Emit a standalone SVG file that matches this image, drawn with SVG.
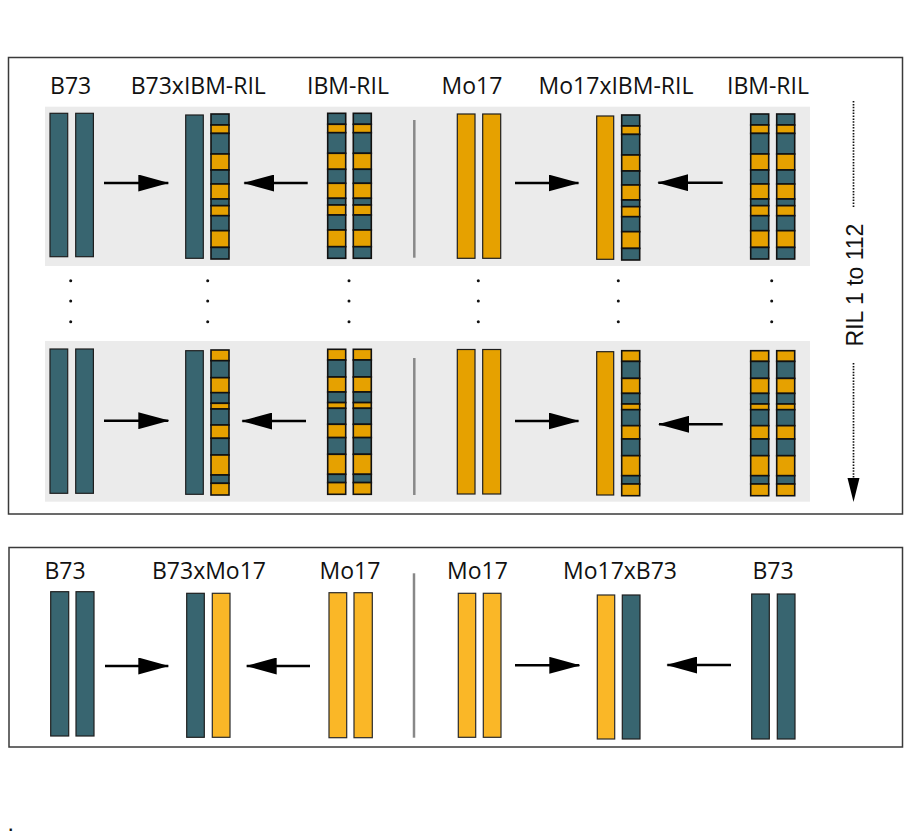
<svg xmlns="http://www.w3.org/2000/svg" width="923" height="835" viewBox="0 0 923 835">
<style>
.box{fill:#fff;stroke:#3a3a3a;stroke-width:1.5}
.panel{fill:#ebebeb}
.t{fill:#386570;stroke:#1e1e1e;stroke-width:1.2}
.o{fill:#e6a100;stroke:#1e1e1e;stroke-width:1.2}
.o2{fill:#fab727;stroke:#2a2a2a;stroke-width:1.2}
.st{stroke:#111;stroke-width:1.6}
.sep{stroke:#888;stroke-width:2.5}
.lbl{font-family:"Open Sans","Liberation Sans",sans-serif;font-size:23px;fill:#111;text-anchor:middle}
.arr{stroke:#000;stroke-width:2.6;fill:none;marker-end:url(#ah)}
.dot{fill:#111}
.dash{stroke:#111;stroke-width:1.7;stroke-dasharray:1.5 1.4;fill:none}
</style>
<defs>
<marker id="ah" viewBox="0 0 31 17" refX="30" refY="8.5" markerWidth="31" markerHeight="17" markerUnits="userSpaceOnUse" orient="auto">
<path d="M0,0 L31,8.5 L0,17 Z" fill="#000"/>
</marker>
<g id="sA">
<rect class="t st" x="0" y="0" width="18" height="11"/>
<rect class="o st" x="0" y="11" width="18" height="8.4"/>
<rect class="t st" x="0" y="19.4" width="18" height="20.6"/>
<rect class="o st" x="0" y="40" width="18" height="16"/>
<rect class="t st" x="0" y="56" width="18" height="14"/>
<rect class="o st" x="0" y="70" width="18" height="15"/>
<rect class="t st" x="0" y="85" width="18" height="6.7"/>
<rect class="o st" x="0" y="91.7" width="18" height="10"/>
<rect class="t st" x="0" y="101.7" width="18" height="15"/>
<rect class="o st" x="0" y="116.7" width="18" height="16.7"/>
<rect class="t st" x="0" y="133.4" width="18" height="11.6"/>
</g>
<g id="sB">
<rect class="o st" x="0" y="0" width="18" height="10.7"/>
<rect class="t st" x="0" y="10.7" width="18" height="17"/>
<rect class="o st" x="0" y="27.7" width="18" height="15"/>
<rect class="t st" x="0" y="42.7" width="18" height="10.6"/>
<rect class="o st" x="0" y="53.3" width="18" height="5.7"/>
<rect class="t st" x="0" y="59" width="18" height="16"/>
<rect class="o st" x="0" y="75" width="18" height="13.3"/>
<rect class="t st" x="0" y="88.3" width="18" height="16.7"/>
<rect class="o st" x="0" y="105" width="18" height="20"/>
<rect class="t st" x="0" y="125" width="18" height="8.3"/>
<rect class="o st" x="0" y="133.3" width="18" height="11.7"/>
</g>
</defs>
<rect width="923" height="835" fill="#fff"/>

<g id="frame-ril">
<rect class="box" x="8.5" y="57.5" width="894" height="456.5"/>
<rect class="panel" x="45" y="106.7" width="765" height="159.3"/>
<rect class="panel" x="45" y="341" width="765" height="160.7"/>
<line class="sep" x1="414.3" y1="120" x2="414.3" y2="257.7"/>
<line class="sep" x1="414.3" y1="358" x2="414.3" y2="495"/>
</g>

<g id="col-b73">
<text class="lbl" x="70.7" y="94">B73</text>
<rect class="t" x="50" y="113.3" width="17.7" height="143.4"/>
<rect class="t" x="75.7" y="113.3" width="17.7" height="143.4"/>
<rect class="t" x="50" y="349" width="17.7" height="144.3"/>
<rect class="t" x="75.7" y="349" width="17.7" height="144.3"/>
<circle class="dot" cx="70.7" cy="280.7" r="1.5"/><circle class="dot" cx="70.7" cy="301" r="1.5"/><circle class="dot" cx="70.7" cy="321.7" r="1.5"/>
</g>

<g id="col-b73xibm">
<text class="lbl" x="198.3" y="94">B73xIBM-RIL</text>
<rect class="t" x="185.7" y="115" width="17.6" height="143.3"/>
<use href="#sA" x="211" y="114"/>
<rect class="t" x="185.7" y="350.7" width="17.6" height="143.6"/>
<use href="#sB" x="211" y="350"/>
<circle class="dot" cx="207.7" cy="280.7" r="1.5"/><circle class="dot" cx="207.7" cy="301" r="1.5"/><circle class="dot" cx="207.7" cy="321.7" r="1.5"/>
</g>

<g id="col-ibm1">
<text class="lbl" x="348" y="94">IBM-RIL</text>
<use href="#sA" x="327.7" y="113.3"/>
<use href="#sA" x="353.3" y="113.3"/>
<use href="#sB" x="327.7" y="349.3"/>
<use href="#sB" x="353.3" y="349.3"/>
<circle class="dot" cx="349" cy="280.7" r="1.5"/><circle class="dot" cx="349" cy="301" r="1.5"/><circle class="dot" cx="349" cy="321.7" r="1.5"/>
</g>

<g id="col-mo17">
<text class="lbl" x="472" y="94">Mo17</text>
<rect class="o" x="457.3" y="114" width="17.7" height="144.3"/>
<rect class="o" x="482.7" y="114" width="18" height="144.3"/>
<rect class="o" x="457.3" y="349.5" width="17.7" height="144.5"/>
<rect class="o" x="482.7" y="349.5" width="18" height="144.5"/>
<circle class="dot" cx="478.3" cy="280.7" r="1.5"/><circle class="dot" cx="478.3" cy="301" r="1.5"/><circle class="dot" cx="478.3" cy="321.7" r="1.5"/>
</g>

<g id="col-mo17xibm">
<text class="lbl" x="616" y="94">Mo17xIBM-RIL</text>
<rect class="o" x="596.7" y="116" width="17" height="143.3"/>
<use href="#sA" x="621.7" y="115"/>
<rect class="o" x="596.7" y="351.7" width="17" height="143.3"/>
<use href="#sB" x="621.7" y="350.7"/>
<circle class="dot" cx="618.3" cy="280.7" r="1.5"/><circle class="dot" cx="618.3" cy="301" r="1.5"/><circle class="dot" cx="618.3" cy="321.7" r="1.5"/>
</g>

<g id="col-ibm2">
<text class="lbl" x="768" y="94">IBM-RIL</text>
<use href="#sA" x="750.7" y="114"/>
<use href="#sA" x="776.7" y="114"/>
<use href="#sB" x="750.7" y="350.7"/>
<use href="#sB" x="776.7" y="350.7"/>
<circle class="dot" cx="771.7" cy="280.7" r="1.5"/><circle class="dot" cx="771.7" cy="301" r="1.5"/><circle class="dot" cx="771.7" cy="321.7" r="1.5"/>
</g>

<g id="ril-range">
<line class="dash" x1="853.5" y1="101" x2="853.5" y2="207"/>
<line class="dash" x1="853.5" y1="363" x2="853.5" y2="479"/>
<path d="M847.5,478 L859.5,478 L853.5,502 Z" fill="#000"/>
<text transform="translate(863,285) rotate(-90)" x="0" y="0" font-family="'Liberation Sans',Arial,sans-serif" font-size="23" fill="#111" text-anchor="middle">RIL 1 to 112</text>
</g>

<g id="frame-parents">
<rect class="box" x="9" y="547.5" width="893.5" height="199.5"/>
<line class="sep" x1="414" y1="573.3" x2="414" y2="737.7" stroke-width="2"/>
</g>

<g id="p-b73">
<text class="lbl" x="65" y="579">B73</text>
<rect class="t" x="50.7" y="591.7" width="18" height="144.3"/>
<rect class="t" x="76" y="591.7" width="18" height="144.3"/>
</g>
<g id="p-b73xmo17">
<text class="lbl" x="209" y="579">B73xMo17</text>
<rect class="t" x="186.7" y="593.3" width="17.6" height="144"/>
<rect class="o2" x="212.3" y="593.3" width="17.7" height="144"/>
</g>
<g id="p-mo17a">
<text class="lbl" x="350" y="579">Mo17</text>
<rect class="o2" x="329" y="592.7" width="17.7" height="145"/>
<rect class="o2" x="354" y="592.7" width="18.3" height="145"/>
</g>
<g id="p-mo17b">
<text class="lbl" x="477.5" y="579">Mo17</text>
<rect class="o2" x="458.3" y="593.3" width="17.4" height="144"/>
<rect class="o2" x="483.3" y="593.3" width="17.7" height="144"/>
</g>
<g id="p-mo17xb73">
<text class="lbl" x="620" y="579">Mo17xB73</text>
<rect class="o2" x="597.3" y="595" width="17.4" height="144"/>
<rect class="t" x="622.3" y="595" width="17.7" height="144"/>
</g>
<g id="p-b73b">
<text class="lbl" x="773" y="579">B73</text>
<rect class="t" x="751.7" y="594" width="17.6" height="145"/>
<rect class="t" x="777.3" y="594" width="17.7" height="145"/>
</g>

<g id="connectors">
<line class="arr" x1="104" y1="183" x2="168.3" y2="183"/>
<line class="arr" x1="307.7" y1="183" x2="244.3" y2="183"/>
<line class="arr" x1="515" y1="183" x2="578.5" y2="183"/>
<line class="arr" x1="722.7" y1="182.7" x2="658.3" y2="182.7"/>
<line class="arr" x1="104" y1="420.7" x2="168.3" y2="420.7"/>
<line class="arr" x1="306" y1="421" x2="242.3" y2="421"/>
<line class="arr" x1="515" y1="421" x2="578.5" y2="421"/>
<line class="arr" x1="722.7" y1="424.3" x2="659" y2="424.3"/>
<line class="arr" x1="105" y1="666" x2="168.3" y2="666"/>
<line class="arr" x1="310" y1="666" x2="246.7" y2="666"/>
<line class="arr" x1="515" y1="665.3" x2="579.3" y2="665.3"/>
<line class="arr" x1="731" y1="665" x2="667.3" y2="665"/>
</g>

<text x="8.5" y="830.5" font-family="'Liberation Sans',Arial,sans-serif" font-size="16" font-weight="bold" fill="#111">.</text>
</svg>
